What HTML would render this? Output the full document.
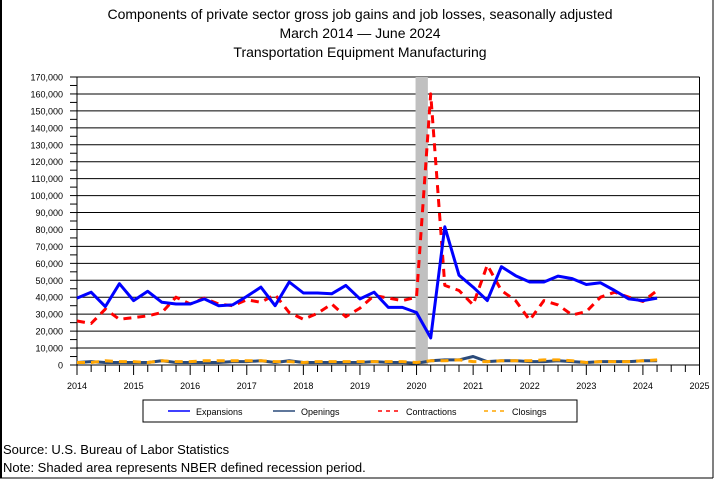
<!DOCTYPE html>
<html><head><meta charset="utf-8"><style>
html,body{margin:0;padding:0;background:#fff;width:720px;height:480px;overflow:hidden}
svg{display:block;font-family:"Liberation Sans",sans-serif}
</style></head><body>
<svg id="chart" width="720" height="480" viewBox="0 0 720 480">
<line x1="1" y1="0" x2="1" y2="478" stroke="#000" stroke-width="2"/>
<line x1="713" y1="0" x2="713" y2="478" stroke="#000" stroke-width="1"/>
<line x1="0" y1="478" x2="713" y2="478" stroke="#000" stroke-width="1"/>
<text x="360" y="19" text-anchor="middle" font-size="14">Components of private sector gross job gains and job losses, seasonally adjusted</text>
<text x="360" y="38" text-anchor="middle" font-size="14">March 2014  — June 2024</text>
<text x="360" y="57" text-anchor="middle" font-size="14">Transportation Equipment Manufacturing</text>
<g id="grid"></g>
<rect id="recession" fill="#c0c0c0"/>
<g id="axes"></g>
<g id="series"></g>
<g>
<rect x="143" y="400" width="434" height="22" fill="#fff" stroke="#000"/>
<line x1="168" y1="411" x2="190" y2="411" stroke="#0000ff" stroke-width="1.5"/>
<text x="196" y="415" font-size="9">Expansions</text>
<line x1="273" y1="411" x2="295" y2="411" stroke="#2a4a7a" stroke-width="1.5"/>
<text x="301" y="415" font-size="9">Openings</text>
<line x1="378" y1="411" x2="400" y2="411" stroke="#ff0000" stroke-width="1.5" stroke-dasharray="4,4"/>
<text x="406" y="415" font-size="9">Contractions</text>
<line x1="484" y1="411" x2="506" y2="411" stroke="#ffa500" stroke-width="1.5" stroke-dasharray="4,4"/>
<text x="512" y="415" font-size="9">Closings</text>
</g>
<text x="3" y="454" font-size="13">Source: U.S. Bureau of Labor Statistics</text>
<text x="3" y="472" font-size="13">Note: Shaded area represents NBER defined recession period.</text>
</svg>
<script>
const yTicks=[0,10000,20000,30000,40000,50000,60000,70000,80000,90000,100000,110000,120000,130000,140000,150000,160000,170000];
const xYears=[2014,2015,2016,2017,2018,2019,2020,2021,2022,2023,2024,2025];
const expansions=[39.5,43,34.5,48,38,43.5,37,36,36,39,35,35.5,40.5,46,35,49,42.5,42.5,42,47,39,43,34,34,31,16,81.6,53,46,38,58,52.7,49,49,52.5,51,47.5,48.5,44,39,38,39.5];
const contractions=[26,24.5,33,27,28,29,31,40,36,39.5,36,35,38.5,37,41.5,31,27,30.5,36,28.5,33.6,41,39.5,38,40,160,47,44,35.5,59,44,38,26.5,38,35.5,29.5,31.5,40,43,40,37.5,44];
const openings=[1.5,2,1.5,1.5,1.5,1.5,2.5,1.5,1.5,1.5,1.5,2,2,2.5,1.5,2.5,1.5,1.5,1.5,1.5,1.5,2,1.5,1.5,1,2.5,3,3,5,2,2.5,2.5,2,2,2.5,2,1.5,2,2,2,2.5,2.5];
const closings=[1.5,1.5,2.5,2,2,1.5,2.5,2,2,2.5,2.5,2.5,2.5,2.5,2,2,1.5,2,2,2,2,2,2,2,1.5,2.5,2.5,3,2,2,2.5,2.5,2.5,3,3,2.5,1.5,2,2,2,2.5,3];
const recession=[2020.0,2020.2];
const X0=77,X1=699.5,Y0=365,Y1=77;
const xs=yr=>X0+(yr-2014)/(2025-2014)*(X1-X0);
const ys=v=>Y0-v/170000*(Y0-Y1);
const qx=i=>xs(2014+i*0.25);
const NS="http://www.w3.org/2000/svg";
function mk(tag,parent){const e=document.createElementNS(NS,tag);parent.appendChild(e);return e;}
const grid=document.getElementById('grid'),axes=document.getElementById('axes'),series=document.getElementById('series');
yTicks.forEach(v=>{
 const y=ys(v);
 if(v>0){const l=mk('line',grid);l.setAttribute('x1',X0);l.setAttribute('x2',X1);l.setAttribute('y1',y);l.setAttribute('y2',y);l.setAttribute('stroke','#000');l.setAttribute('stroke-width','1');
 
 }
 const t=mk('line',axes);t.setAttribute('x1',X0-7);t.setAttribute('x2',X0);t.setAttribute('y1',y);t.setAttribute('y2',y);t.setAttribute('stroke','#000');
 
 
 const m=mk('line',axes);const ym=ys(v+5000);if(v<170000){m.setAttribute('x1',X0-7);m.setAttribute('x2',X0);m.setAttribute('y1',ym);m.setAttribute('y2',ym);m.setAttribute('stroke','#000');}
 
 
 const tx=mk('text',axes);tx.setAttribute('x',X0-14);tx.setAttribute('y',y+3.5);tx.setAttribute('text-anchor','end');tx.setAttribute('font-size','9');tx.textContent=v.toLocaleString('en-US');
 
 
});
const r=document.getElementById('recession');
r.setAttribute('x',xs(recession[0])-1);r.setAttribute('width',xs(recession[1])-xs(recession[0])+1);r.setAttribute('y',Y1);r.setAttribute('height',Y0-Y1);
const ya=mk('line',axes);ya.setAttribute('x1',X0);ya.setAttribute('x2',X0);ya.setAttribute('y1',Y1);ya.setAttribute('y2',Y0);ya.setAttribute('stroke','#000');


const xa=mk('line',axes);xa.setAttribute('x1',X0);xa.setAttribute('x2',X1);xa.setAttribute('y1',Y0);xa.setAttribute('y2',Y0);xa.setAttribute('stroke','#000');


const ra=mk('line',axes);ra.setAttribute('x1',X1);ra.setAttribute('x2',X1);ra.setAttribute('y1',Y1);ra.setAttribute('y2',Y0);ra.setAttribute('stroke','#000');


for(let q=0;q<=44;q++){
 const x=xs(2014+q/4);const major=q%4===0;
 const t=mk('line',axes);t.setAttribute('x1',x);t.setAttribute('x2',x);t.setAttribute('y1',Y0);t.setAttribute('y2',Y0+(major?10:7));t.setAttribute('stroke','#000');
 
 
}
xYears.forEach(yr=>{
 const tx=mk('text',axes);tx.setAttribute('x',xs(yr));tx.setAttribute('y',Y0+24);tx.setAttribute('text-anchor','middle');tx.setAttribute('font-size','9');tx.textContent=yr;
 
 
});
function line(arr,color,dash,w,name){
 const p=mk('polyline',series);
 p.setAttribute('points',arr.map((v,i)=>qx(i).toFixed(1)+','+ys(v*1000).toFixed(1)).join(' '));
 p.setAttribute('fill','none');p.setAttribute('stroke',color);p.setAttribute('stroke-width',w);p.setAttribute('stroke-linejoin','round');
 if(dash)p.setAttribute('stroke-dasharray',dash);
 
 
}
line(openings,'#2a4a7a','',3,'openings-line');
line(closings,'#ffa500','8,6',3,'closings-line');
line(contractions,'#ff0000','8,6',3,'contractions-line');
line(expansions,'#0000ff','',3,'expansions-line');
</script>
</body></html>
